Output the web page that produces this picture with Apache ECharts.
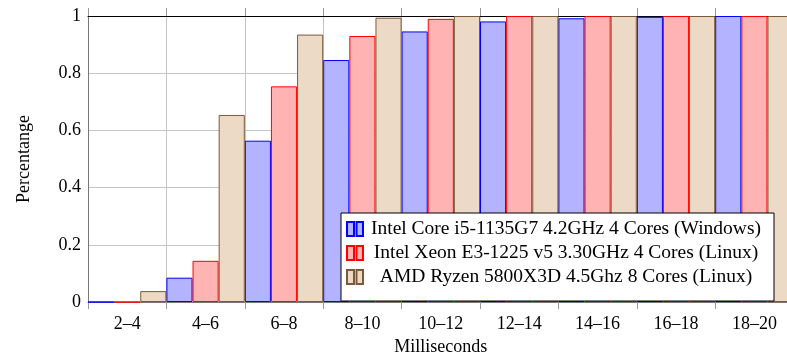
<!DOCTYPE html>
<html>
<head>
<meta charset="utf-8">
<script src="https://cdn.jsdelivr.net/npm/echarts@6/dist/echarts.min.js"></script>
<style>
html,body{margin:0;padding:0;background:#fff;}
#chart{width:787px;height:354px;}
</style>
</head>
<body>
<div id="chart"></div>
<script>
var categories = ['2–4','4–6','6–8','8–10','10–12','12–14','14–16','16–18','18–20'];
var seriesNames = [
  'Intel Core i5-1135G7 4.2GHz 4 Cores (Windows)',
  'Intel Xeon E3-1225 v5 3.30GHz 4 Cores (Linux)',
  'AMD Ryzen 5800X3D 4.5Ghz 8 Cores (Linux)'
];
var intelCore = [0, 0.085, 0.564, 0.846, 0.946, 0.981, 0.992, 0.997, 1];
var intelXeon = [0, 0.144, 0.754, 0.930, 0.990, 1, 1, 1, 1];
var amdRyzen  = [0.038, 0.654, 0.935, 0.994, 1, 1, 1, 1, 1];
var yTicks = [0, 0.2, 0.4, 0.6, 0.8, 1];

var FONT = 'Liberation Serif';
var chart = echarts.init(document.getElementById('chart'), null, {renderer:'canvas'});

function bar(name, data, fill, border) {
  return {
    name: name, type: 'bar', data: data,
    barGap: '0%', barCategoryGap: '0%',
    itemStyle: {color: fill, borderColor: border, borderWidth: 1},
    emphasis: {disabled: true}
  };
}

chart.setOption({
  animation: false,
  backgroundColor: '#fff',
  grid: {left: 88, top: 16, width: 705.6, height: 286, containLabel: false, outerBoundsMode: 'none'},
  xAxis: [{
    type: 'category', data: categories, position: 'bottom',
    name: 'Milliseconds', nameLocation: 'middle', nameGap: 32,
    nameTextStyle: {fontFamily: FONT, fontSize: 18, color: '#000'},
    axisLine: {lineStyle: {color: '#777', width: 1}},
    axisTick: {show: true, length: 7, lineStyle: {color: '#999'}},
    axisLabel: {fontFamily: FONT, fontSize: 18, color: '#000', margin: 13},
    splitLine: {show: true, lineStyle: {color: '#c4c4c4', width: 1}}
  }, {
    type: 'category', data: categories, position: 'top',
    axisLine: {lineStyle: {color: '#000', width: 1}},
    axisTick: {show: true, length: 8, lineStyle: {color: '#999'}},
    axisLabel: {show: false},
    splitLine: {show: false}
  }],
  yAxis: {
    type: 'value', min: yTicks[0], max: yTicks[yTicks.length-1], interval: 0.2,
    name: 'Percentange', nameLocation: 'middle', nameGap: 55, nameRotate: 90,
    nameTextStyle: {fontFamily: FONT, fontSize: 18, color: '#000'},
    axisLine: {show: true, lineStyle: {color: '#777', width: 1}},
    axisTick: {show: false},
    axisLabel: {fontFamily: FONT, fontSize: 18, color: '#000', margin: 7},
    splitLine: {show: true, lineStyle: {color: '#c4c4c4', width: 1}}
  },
  legend: {
    orient: 'vertical', left: 341, top: 213,
    padding: [6, 10, 14, 5],
    backgroundColor: '#fff', borderColor: '#000', borderWidth: 1, borderRadius: 0,
    itemWidth: 16, itemHeight: 14, itemGap: 4,
    icon: 'path://M0,0h7v14h-7zM9.5,0h6.5v14h-6.5z',
    selectedMode: false,
    formatter: function(n){ return '{a|' + n + '}'; },
    textStyle: {
      fontFamily: FONT, fontSize: 19.5, color: '#000', lineHeight: 20,
      rich: {a: {width: 396, align: 'center', fontFamily: FONT, fontSize: 19.5, lineHeight: 20, color: '#000'}}
    },
    data: seriesNames
  },
  series: [
    bar(seriesNames[0], intelCore, '#b3b3ff', '#0000ff'),
    bar(seriesNames[1], intelXeon, '#ffb3b3', '#ff0000'),
    bar(seriesNames[2], amdRyzen, '#ecd9c6', '#7a5a3a')
  ]
});
</script>
</body>
</html>
